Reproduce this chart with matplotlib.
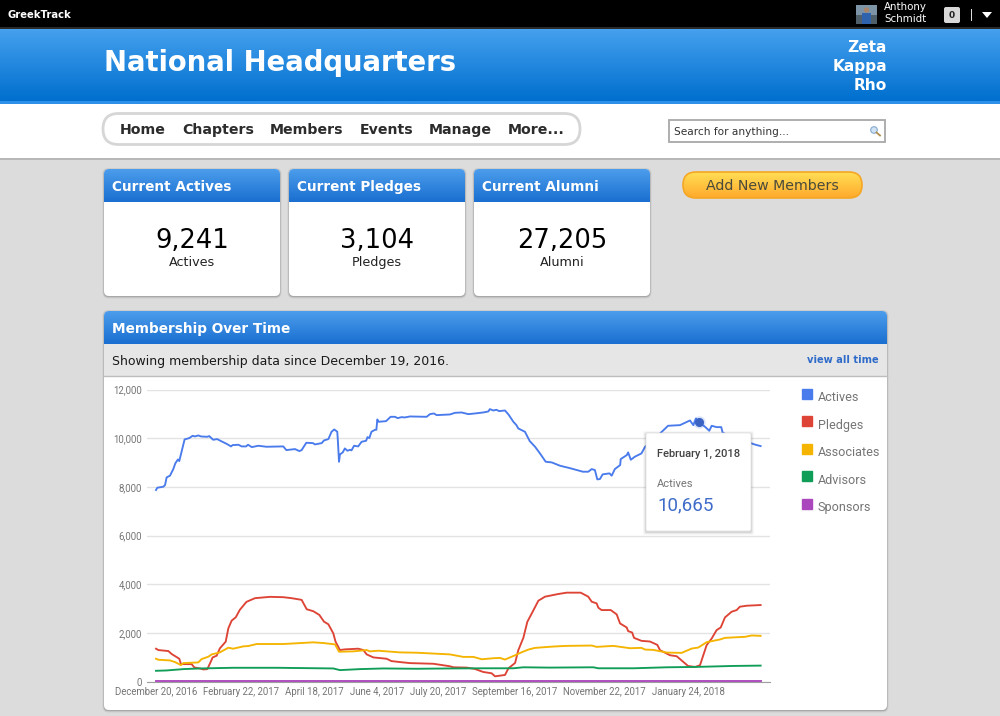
from datetime import date
import numpy as np
import matplotlib
matplotlib.use('Agg')
import matplotlib.pyplot as plt
from matplotlib.lines import Line2D
from matplotlib.patches import FancyBboxPatch, Rectangle, Circle, Polygon

# days counted from December 20, 2016
actives_days = [0, 1, 5.5, 6.8, 8, 10.5, 13, 14.5, 16.5, 17.5, 19.5, 21.5, 25, 27.5, 29.3, 31.8, 33.8, 38.6, 40, 43, 46, 49.4, 53, 56.4, 57.6, 62, 64.4, 67.7, 69.2, 72, 77, 83, 95.7, 98, 104.5, 107.8, 109.5, 113, 118, 119.5, 124.6, 126.3, 129.6, 132, 134, 136.3, 136.8, 137.6, 138.3, 140.4, 142, 143.9, 145.9, 147, 148.9, 152, 154.6, 158, 159, 160.4, 162, 164.7, 165.7, 166.4, 167.4, 173, 176.4, 179.7, 181.7, 184.7, 187, 191, 203.5, 206, 209, 211, 221, 224.8, 229.8, 234.8, 239.8, 246, 249.9, 251, 253.6, 256, 258, 262.4, 265, 268.7, 271, 272.4, 277.4, 281, 285, 288.7, 293, 297.5, 303.8, 311, 321, 325, 327.6, 330, 331.8, 333.8, 335.8, 341, 342.6, 345, 349, 349.4, 354, 355, 357, 360, 365, 367.7, 371.4, 375, 379, 385, 394, 401.5, 404, 406, 408, 412.8, 416, 417.8, 421.5, 425, 426, 434, 447.9, 450, 454.6]
actives = [7869, 7964, 8005, 8074, 8388, 8457, 8730, 8963, 9127, 9059, 9510, 9948, 10003, 10098, 10071, 10112, 10071, 10057, 10085, 9934, 9962, 9866, 9770, 9661, 9715, 9729, 9661, 9661, 9729, 9633, 9688, 9647, 9661, 9510, 9551, 9469, 9510, 9811, 9797, 9743, 9797, 9907, 9962, 10263, 10358, 10263, 9852, 9031, 9332, 9414, 9579, 9483, 9524, 9497, 9688, 9661, 9852, 9893, 10044, 10003, 10263, 10345, 10345, 10769, 10673, 10700, 10878, 10878, 10823, 10865, 10851, 10892, 10878, 10988, 11015, 10947, 10974, 11042, 11056, 10988, 11015, 11056, 11097, 11193, 11138, 11166, 11111, 11138, 10974, 10673, 10536, 10399, 10263, 9880, 9647, 9373, 9031, 9004, 8867, 8771, 8621, 8621, 8730, 8689, 8306, 8320, 8512, 8553, 8457, 8730, 8895, 9141, 9305, 9414, 9113, 9237, 9373, 9647, 9784, 9989, 10194, 10509, 10536, 10728, 10536, 10810, 10665, 10468, 10304, 10509, 10454, 10454, 10235, 9989, 9784, 9743, 9674]

pledges_days = [0, 1.8, 9.3, 11.8, 14.3, 17.5, 18.8, 20.5, 26.8, 28.8, 33, 35.6, 38.6, 40.6, 42.6, 45.6, 48, 52.4, 54.4, 56.9, 60, 63, 68, 74.4, 85.7, 95.7, 102, 109.5, 113.3, 118.3, 122.8, 126.3, 129.6, 133.3, 135, 138.3, 142, 152, 155.9, 158.4, 163.4, 173.4, 177, 183.5, 191, 208.5, 213.5, 221, 223.6, 233.6, 239.8, 246, 252.4, 254.9, 262.4, 265, 270, 272.4, 276.2, 279.2, 283.2, 287.5, 292.5, 302.5, 308.8, 319.3, 325, 327.6, 331.3, 332.6, 335, 341.9, 346.4, 348.9, 353.9, 355, 358, 359.4, 365, 371.4, 376.9, 379, 386.5, 391.5, 396.5, 400, 405.3, 409, 414, 417.8, 421.5, 424.6, 427.8, 432.8, 436.6, 439, 444, 454.6]
pledges = [1348, 1292, 1251, 1128, 1045, 935, 715, 715, 715, 578, 536, 495, 509, 743, 990, 1059, 1361, 1636, 2186, 2503, 2640, 2943, 3273, 3424, 3479, 3465, 3424, 3355, 2970, 2888, 2736, 2461, 2351, 1980, 1636, 1293, 1320, 1348, 1293, 1114, 990, 935, 839, 798, 756, 729, 688, 626, 584, 571, 516, 392, 337, 213, 268, 543, 763, 1286, 1794, 2454, 2867, 3321, 3486, 3596, 3651, 3651, 3486, 3279, 3211, 3032, 2936, 2936, 2757, 2386, 2221, 2069, 2014, 1794, 1671, 1643, 1506, 1286, 1079, 1038, 804, 639, 598, 667, 1492, 1767, 2111, 2221, 2633, 2867, 2936, 3073, 3114, 3142]

associates_days = [0, 1.8, 10.5, 14.3, 18.8, 20.5, 31.8, 34.3, 39.3, 41.9, 48, 54.4, 58, 65.7, 69.4, 75.7, 95.7, 118.3, 125.8, 134.6, 137.6, 148.4, 158.4, 160.9, 167.2, 183.5, 196, 221, 231, 238.6, 244.9, 253.6, 258.6, 262.4, 270, 275, 280, 285, 298.8, 308.8, 327.6, 331.3, 343.9, 356.4, 365, 367.7, 374, 384, 395.2, 402.8, 407.8, 414, 424, 427.8, 442.9, 447.9, 454.6]
associates = [935, 894, 866, 798, 674, 756, 784, 921, 1018, 1114, 1196, 1389, 1348, 1444, 1458, 1540, 1540, 1609, 1581, 1526, 1224, 1238, 1293, 1238, 1265, 1196, 1183, 1114, 1011, 1011, 914, 956, 969, 901, 1079, 1203, 1313, 1382, 1437, 1464, 1478, 1423, 1464, 1368, 1382, 1313, 1299, 1189, 1176, 1354, 1396, 1616, 1726, 1794, 1836, 1891, 1877]

advisors_days = [0, 8, 20.5, 33, 58, 90.7, 133.3, 138.3, 153.4, 170.9, 196, 221, 246, 268.7, 276.2, 296, 328.8, 332.6, 358.9, 384, 405.3, 434, 454.6]
advisors = [440, 454, 509, 536, 564, 564, 536, 468, 509, 536, 523, 536, 543, 543, 584, 571, 584, 543, 543, 584, 598, 639, 653]

sponsors_days = [0, 220, 454.6]
sponsors = [14, 14, 14]

series_names = ['Actives', 'Pledges', 'Associates', 'Advisors', 'Sponsors']
series_colors = ['#4a7bec', '#dd4436', '#f4b400', '#0f9d58', '#ab47bc']

tick_labels = ['December 20, 2016', 'February 22, 2017', 'April 18, 2017', 'June 4, 2017',
               'July 20, 2017', 'September 16, 2017', 'November 22, 2017', 'January 24, 2018']
tick_dates = [date(2016, 12, 20), date(2017, 2, 22), date(2017, 4, 18), date(2017, 6, 4),
              date(2017, 7, 20), date(2017, 9, 16), date(2017, 11, 22), date(2018, 1, 24)]
y_ticks = [0, 2000, 4000, 6000, 8000, 10000, 12000]

nav_items = ['Home', 'Chapters', 'Members', 'Events', 'Manage', 'More...']
nav_x = [120, 182, 270, 360, 429, 508]
cards = [('Current Actives', '9,241', 'Actives'), ('Current Pledges', '3,104', 'Pledges'),
         ('Current Alumni', '27,205', 'Alumni')]
card_x = [104, 289, 474]

highlight_day = 408
highlight_value = 10665

W, H = 1000, 716
fig = plt.figure(figsize=(W / 100, H / 100), dpi=100, facecolor='#dcdcdc')


def page_axes(zorder):
    ax = fig.add_axes([0, 0, 1, 1], zorder=zorder)
    ax.set_xlim(0, W)
    ax.set_ylim(H, 0)
    ax.set_autoscale_on(False)
    ax.axis('off')
    ax.patch.set_alpha(0)
    return ax


def gradient(ax, x0, x1, y0, y1, top, bottom, clip=None, zorder=2):
    c0 = np.array(matplotlib.colors.to_rgb(top))
    c1 = np.array(matplotlib.colors.to_rgb(bottom))
    t = np.linspace(0, 1, 64)[:, None, None]
    img = c0[None, None, :] * (1 - t) + c1[None, None, :] * t
    im = ax.imshow(img, extent=(x0, x1, y1, y0), aspect='auto', zorder=zorder, interpolation='bilinear')
    if clip is not None:
        im.set_clip_path(clip)
    return im


def box(ax, x0, y0, x1, y1, r=4, fc='white', ec='none', lw=1, zorder=2, **kw):
    p = FancyBboxPatch((x0 + r, y0 + r), x1 - x0 - 2 * r, y1 - y0 - 2 * r,
                       boxstyle='round,pad=%g,rounding_size=%g' % (r, r),
                       fc=fc, ec=ec, lw=lw, zorder=zorder, **kw)
    ax.add_patch(p)
    return p


def shadowed_box(ax, x0, y0, x1, y1):
    box(ax, x0 - 1.5, y0 - 1, x1 + 1.5, y1 + 2.5, r=6, fc='#a0a0a0', alpha=0.25, zorder=1.5)
    box(ax, x0 - 0.5, y0, x1 + 0.5, y1 + 1.2, r=5, fc='#9a9a9a', alpha=0.7, zorder=1.6)
    box(ax, x0, y0, x1, y1, r=5, fc='white', ec='none')


def blue_header(ax, x0, y0, x1, y1, title):
    clip = box(ax, x0, y0, x1, y1 + 6, r=5, fc='none', zorder=2)
    gradient(ax, x0, x1, y0, y1, '#4c9dec', '#1a6fd0', clip=clip, zorder=3)
    ax.text(x0 + 8, y1 - 11.2, title, color='white', fontsize=9.8, fontweight='bold',
            va='baseline', ha='left', zorder=4)


ui = page_axes(0)

# top bar
ui.add_patch(Rectangle((0, 0), W, 29, fc='black', ec='none'))
ui.add_patch(Rectangle((0, 26.5), W, 2.5, fc='#2a2a2a', ec='none'))
ui.text(8, 18, 'GreekTrack', color='white', fontsize=7.2, fontweight='bold', va='baseline')
ui.add_patch(Rectangle((856, 5), 21, 19, fc='#7d93a6', ec='none', zorder=2))
ui.add_patch(Rectangle((856, 15), 21, 9, fc='#50606a', ec='none', zorder=3))
ui.add_patch(Rectangle((862, 13), 9, 11, fc='#2f62ad', ec='none', zorder=4))
ui.add_patch(Circle((866.5, 10), 2.6, fc='#a98468', ec='none', zorder=4))
ui.text(884, 10, 'Anthony', color='white', fontsize=7.4, va='baseline')
ui.text(884, 22, 'Schmidt', color='white', fontsize=7.4, va='baseline')
box(ui, 944, 7, 960, 23, r=2, fc='#d8d8d8')
ui.text(952, 15, '0', color='#222222', fontsize=6.5, fontweight='bold', ha='center', va='center', zorder=3)
ui.add_patch(Rectangle((971, 9), 1.3, 12, fc='#dddddd', ec='none'))
ui.add_patch(Polygon([(982, 12), (992, 12), (987, 18)], fc='white', ec='none'))

# header band
gradient(ui, 0, W, 29, 101, '#45a0ee', '#006fce')
ui.add_patch(Rectangle((0, 101), W, 2.5, fc='#2f90ea', ec='none', zorder=3))
ui.text(104, 71, 'National Headquarters', color='white', fontsize=19.8, fontweight='bold', va='baseline', zorder=4)
for y, word in zip([52.2, 71.2, 90.2], ['Zeta', 'Kappa', 'Rho']):
    ui.text(887, y, word, color='white', fontsize=11.1, fontweight='bold', ha='right', va='baseline', zorder=4)

# nav strip
ui.add_patch(Rectangle((0, 103.5), W, 54.5, fc='white', ec='none'))
ui.add_patch(Rectangle((0, 158), W, 2, fc='#b8b8b8', ec='none'))
box(ui, 103, 113.5, 580, 144.5, r=15.5, fc='white', ec='#d6d6d6', lw=2)
for x, item in zip(nav_x, nav_items):
    ui.text(x, 134.2, item, color='#2c2c2c', fontsize=10.2, fontweight='bold', va='baseline', zorder=3)
ui.add_patch(Rectangle((669, 120), 216, 22, fc='white', ec='#a8a8a8', lw=1.3, zorder=2))
ui.text(674, 135.2, 'Search for anything...', color='#333333', fontsize=7.6, va='baseline', zorder=3)
ui.add_patch(Circle((874, 130), 3.3, fc='#cfe3f5', ec='#86abd0', lw=0.8, zorder=3))
ui.plot([876.5, 880], [132.5, 135.5], color='#b08d50', lw=1.3, zorder=3)

# summary cards
for x, (title, number, label) in zip(card_x, cards):
    shadowed_box(ui, x, 169, x + 176, 296)
    blue_header(ui, x, 169, x + 176, 202, title)
    ui.text(x + 88, 248.2, number, color='black', fontsize=18.5, ha='center', va='baseline', zorder=4)
    ui.text(x + 88, 266.2, label, color='#222222', fontsize=9.2, ha='center', va='baseline', zorder=4)

# add members button
btn = box(ui, 683, 172, 862, 198, r=13, fc='none', ec='#f5a623', lw=1.2, zorder=4)
gradient(ui, 683, 862, 172, 198, '#ffdf55', '#ffa92c', clip=btn, zorder=3)
ui.text(772.5, 190.2, 'Add New Members', color='#4a4a3a', fontsize=10.2, ha='center', va='baseline', zorder=5)

# membership panel
shadowed_box(ui, 104, 311, 887, 710)
blue_header(ui, 104, 311, 887, 344, 'Membership Over Time')
ui.add_patch(Rectangle((104, 344), 783, 31.5, fc='#e6e6e6', ec='none', zorder=3))
ui.plot([104, 887], [375.5, 375.5], color='#bdbdbd', lw=1, zorder=4)
ui.text(112, 365.2, 'Showing membership data since December 19, 2016.', color='#1a1a1a', fontsize=9.03,
        va='baseline', zorder=5)
ui.text(879, 363.2, 'view all time', color='#2f6bc9', fontsize=7.1, fontweight='bold', ha='right',
        va='baseline', zorder=5)

# chart
start = tick_dates[0]
px_per_day = 1.33
left_px, right_px, top_px, bottom_px = 147, 770, 389.5, 681.5
ax = fig.add_axes([left_px / W, 1 - bottom_px / H, (right_px - left_px) / W, (bottom_px - top_px) / H], zorder=1)
ax.patch.set_alpha(0)
ax.set_xlim((left_px - 156) / px_per_day, (right_px - 156) / px_per_day)
ax.set_ylim(0, 12000)
for s in ax.spines.values():
    s.set_visible(False)
ax.spines['bottom'].set_visible(True)
ax.spines['bottom'].set_color('#9e9e9e')
ax.spines['bottom'].set_linewidth(0.8)
ax.grid(axis='y', color='#e3e3e3', lw=1)
ax.set_axisbelow(True)
ax.set_yticks(y_ticks)
ax.set_yticklabels(['{:,}'.format(v) for v in y_ticks])
ax.set_xticks([(d - start).days for d in tick_dates])
ax.set_xticklabels(tick_labels)
ax.tick_params(length=0, labelcolor='#757575', labelsize=6.9)
ax.tick_params(axis='y', pad=3.5)
ax.tick_params(axis='x', pad=9.5)
for t in ax.get_xticklabels() + ax.get_yticklabels():
    t.set_fontfamily('Roboto')
for t in ax.get_xticklabels():
    t.set_verticalalignment('baseline')

all_days = [actives_days, pledges_days, associates_days, advisors_days, sponsors_days]
all_values = [actives, pledges, associates, advisors, sponsors]
order = [4, 3, 2, 1, 0]
for i in order:
    ax.plot(all_days[i], all_values[i], color=series_colors[i], lw=1.35, zorder=3 + i * 0.1,
            solid_joinstyle='round', label=series_names[i])
ax.plot([highlight_day], [highlight_value], 'o', color='#3a63c4', ms=5.5, zorder=5)
ax.plot([highlight_day], [highlight_value], 'o', color='#4a7bec', ms=9, alpha=0.2, mew=0, zorder=4)

handles = [Line2D([], [], ls='none', marker='s', ms=7, color=c, label=n)
           for n, c in zip(series_names, series_colors)]
leg = ax.legend(handles=handles, loc='upper left', bbox_to_anchor=(800.5 / W, 1 - 391 / H),
                bbox_transform=fig.transFigure, frameon=False,
                prop={'family': 'Roboto', 'size': 9.1}, labelcolor='#757575',
                labelspacing=1.15, handletextpad=0.38, handlelength=1.0, borderpad=0, borderaxespad=0)
# squares sit a little above the text
for h in leg.legend_handles:
    h.set_ydata(np.asarray(h.get_ydata(), dtype=float) + 2.2)

# tooltip
over = page_axes(3)
for k, a in zip([3, 2, 1], [0.03, 0.05, 0.08]):
    box(over, 646 - k, 433 - k + 1, 751 + k, 531 + k + 1, r=2, fc='black', alpha=a, zorder=1)
box(over, 646, 433, 751, 531, r=1.5, fc='white', ec='#dddddd', lw=0.5, zorder=2)
over.text(657, 457, 'February 1, 2018', family='Roboto', fontweight='medium', color='#424242',
          fontsize=8, va='baseline', zorder=3)
over.text(657, 486.7, 'Actives', family='Roboto', color='#757575', fontsize=8, va='baseline', zorder=3)
over.text(657, 510.2, '10,665', family='Roboto', color='#3f6cc9', fontsize=13.5, va='baseline', zorder=3)

fig.savefig('out.png', dpi=100, facecolor=fig.get_facecolor())
